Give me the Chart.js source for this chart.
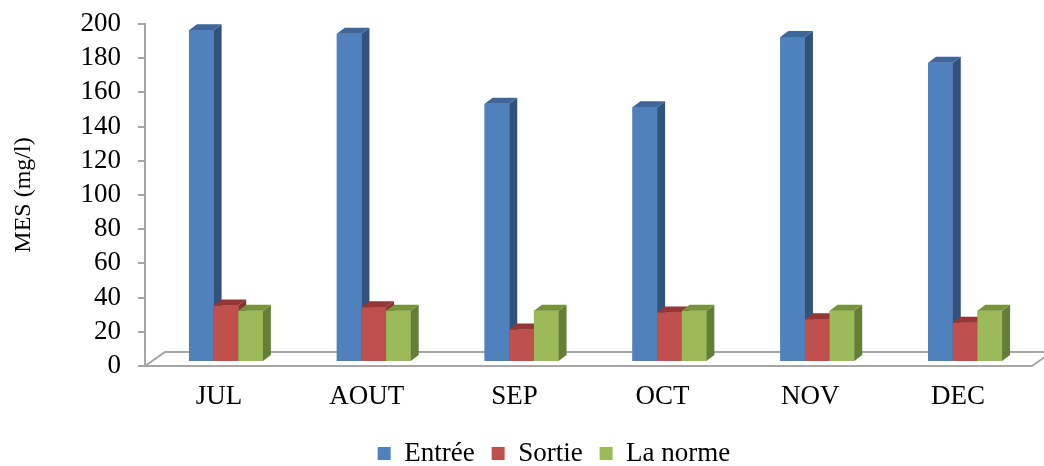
<!DOCTYPE html>
<html>
<head>
<meta charset="utf-8">
<script src="https://cdn.jsdelivr.net/npm/chart.js@4"></script>
<style>
html,body{margin:0;padding:0;background:#fff;}
#wrap{width:1044px;height:466px;}
</style>
</head>
<body>
<div id="wrap"><canvas id="c" width="1044" height="466"></canvas></div>
<script>
const categories = ['JUL', 'AOUT', 'SEP', 'OCT', 'NOV', 'DEC'];
const entree = [194, 192, 151, 149, 190, 175];
const sortie = [33, 32, 19, 29, 25, 23];
const norme = [30, 30, 30, 30, 30, 30];
const yTicks = [0, 20, 40, 60, 80, 100, 120, 140, 160, 180, 200];

const FONT = "'Liberation Serif', 'Times New Roman', serif";
const SHIFT = {x: 7, y: -4};
const DEPTH = {dx: 8, dy: -6};
const FLOOR = {dx: 20, dy: -14};
const LEGEND_SHIFT = 38;
const faceColors = [
  {top: '#3F6698', side: '#31527C'},
  {top: '#953735', side: '#843230'},
  {top: '#77933C', side: '#657E36'}
];

const bar3d = {
  id: 'bar3d',
  afterLayout(chart) {
    if (chart.legend) {
      chart.legend.left += LEGEND_SHIFT;
      chart.legend.right += LEGEND_SHIFT;
    }
  },
  beforeDatasetsDraw(chart) {
    const ctx = chart.ctx;
    const a = chart.chartArea;
    ctx.save();
    ctx.strokeStyle = '#A6A6A6';
    ctx.lineWidth = 2;
    ctx.beginPath();
    ctx.moveTo(a.left, a.bottom);
    ctx.lineTo(a.right, a.bottom);
    ctx.lineTo(a.right + FLOOR.dx, a.bottom + FLOOR.dy);
    ctx.lineTo(a.left + FLOOR.dx, a.bottom + FLOOR.dy);
    ctx.closePath();
    ctx.stroke();
    ctx.restore();
    ctx.save();
    ctx.translate(SHIFT.x, SHIFT.y);
  },
  afterDatasetsDraw(chart) {
    const ctx = chart.ctx;
    chart.data.datasets.forEach((ds, i) => {
      const meta = chart.getDatasetMeta(i);
      meta.data.forEach(el => {
        const p = el.getProps(['x', 'y', 'base', 'width'], true);
        const l = p.x - p.width / 2, r = p.x + p.width / 2;
        ctx.fillStyle = ds.backgroundColor;
        ctx.fillRect(l, p.y, r - l, p.base - p.y);
        ctx.fillStyle = faceColors[i].side;
        ctx.beginPath();
        ctx.moveTo(r, p.y);
        ctx.lineTo(r + DEPTH.dx, p.y + DEPTH.dy);
        ctx.lineTo(r + DEPTH.dx, p.base + DEPTH.dy);
        ctx.lineTo(r, p.base);
        ctx.closePath();
        ctx.fill();
        ctx.fillStyle = faceColors[i].top;
        ctx.beginPath();
        ctx.moveTo(l, p.y);
        ctx.lineTo(l + DEPTH.dx, p.y + DEPTH.dy);
        ctx.lineTo(r + DEPTH.dx, p.y + DEPTH.dy);
        ctx.lineTo(r, p.y);
        ctx.closePath();
        ctx.fill();
      });
    });
    ctx.restore();
  }
};

new Chart(document.getElementById('c'), {
  type: 'bar',
  data: {
    labels: categories,
    datasets: [
      {label: 'Entrée', data: entree, backgroundColor: '#4F81BD', clip: false},
      {label: 'Sortie', data: sortie, backgroundColor: '#C0504D', clip: false},
      {label: 'La norme', data: norme, backgroundColor: '#9BBB59', clip: false}
    ]
  },
  options: {
    responsive: false,
    animation: false,
    devicePixelRatio: 1,
    layout: {padding: {left: 0, right: 12, top: 24, bottom: -11}},
    datasets: {bar: {categoryPercentage: 0.5, barPercentage: 1.0, borderWidth: 0}},
    plugins: {
      legend: {
        position: 'bottom',
        labels: {
          font: {family: FONT, size: 27},
          color: '#000',
          boxWidth: 13,
          boxHeight: 13,
          padding: 17
        }
      },
      tooltip: {enabled: false}
    },
    scales: {
      x: {
        grid: {display: false},
        border: {display: false},
        ticks: {font: {family: FONT, size: 27}, color: '#000', padding: 7},
        afterFit(s) { s.height = 57; }
      },
      y: {
        min: 0,
        max: 200,
        afterBuildTicks(s) { s.ticks = yTicks.map(v => ({value: v})); },
        grid: {display: true, drawOnChartArea: false, drawTicks: true, tickLength: 7, color: '#A6A6A6', lineWidth: 2},
        border: {display: true, color: '#A6A6A6', width: 2},
        ticks: {font: {family: FONT, size: 27}, color: '#000', padding: 17, autoSkip: false},
        title: {display: true, text: 'MES (mg/l)', font: {family: FONT, size: 24}, color: '#000', padding: {top: 9, bottom: 0}},
        afterFit(s) { s.width = 145; s.paddingTop = 0; s.paddingBottom = 0; }
      }
    }
  },
  plugins: [bar3d]
});
</script>
</body>
</html>
